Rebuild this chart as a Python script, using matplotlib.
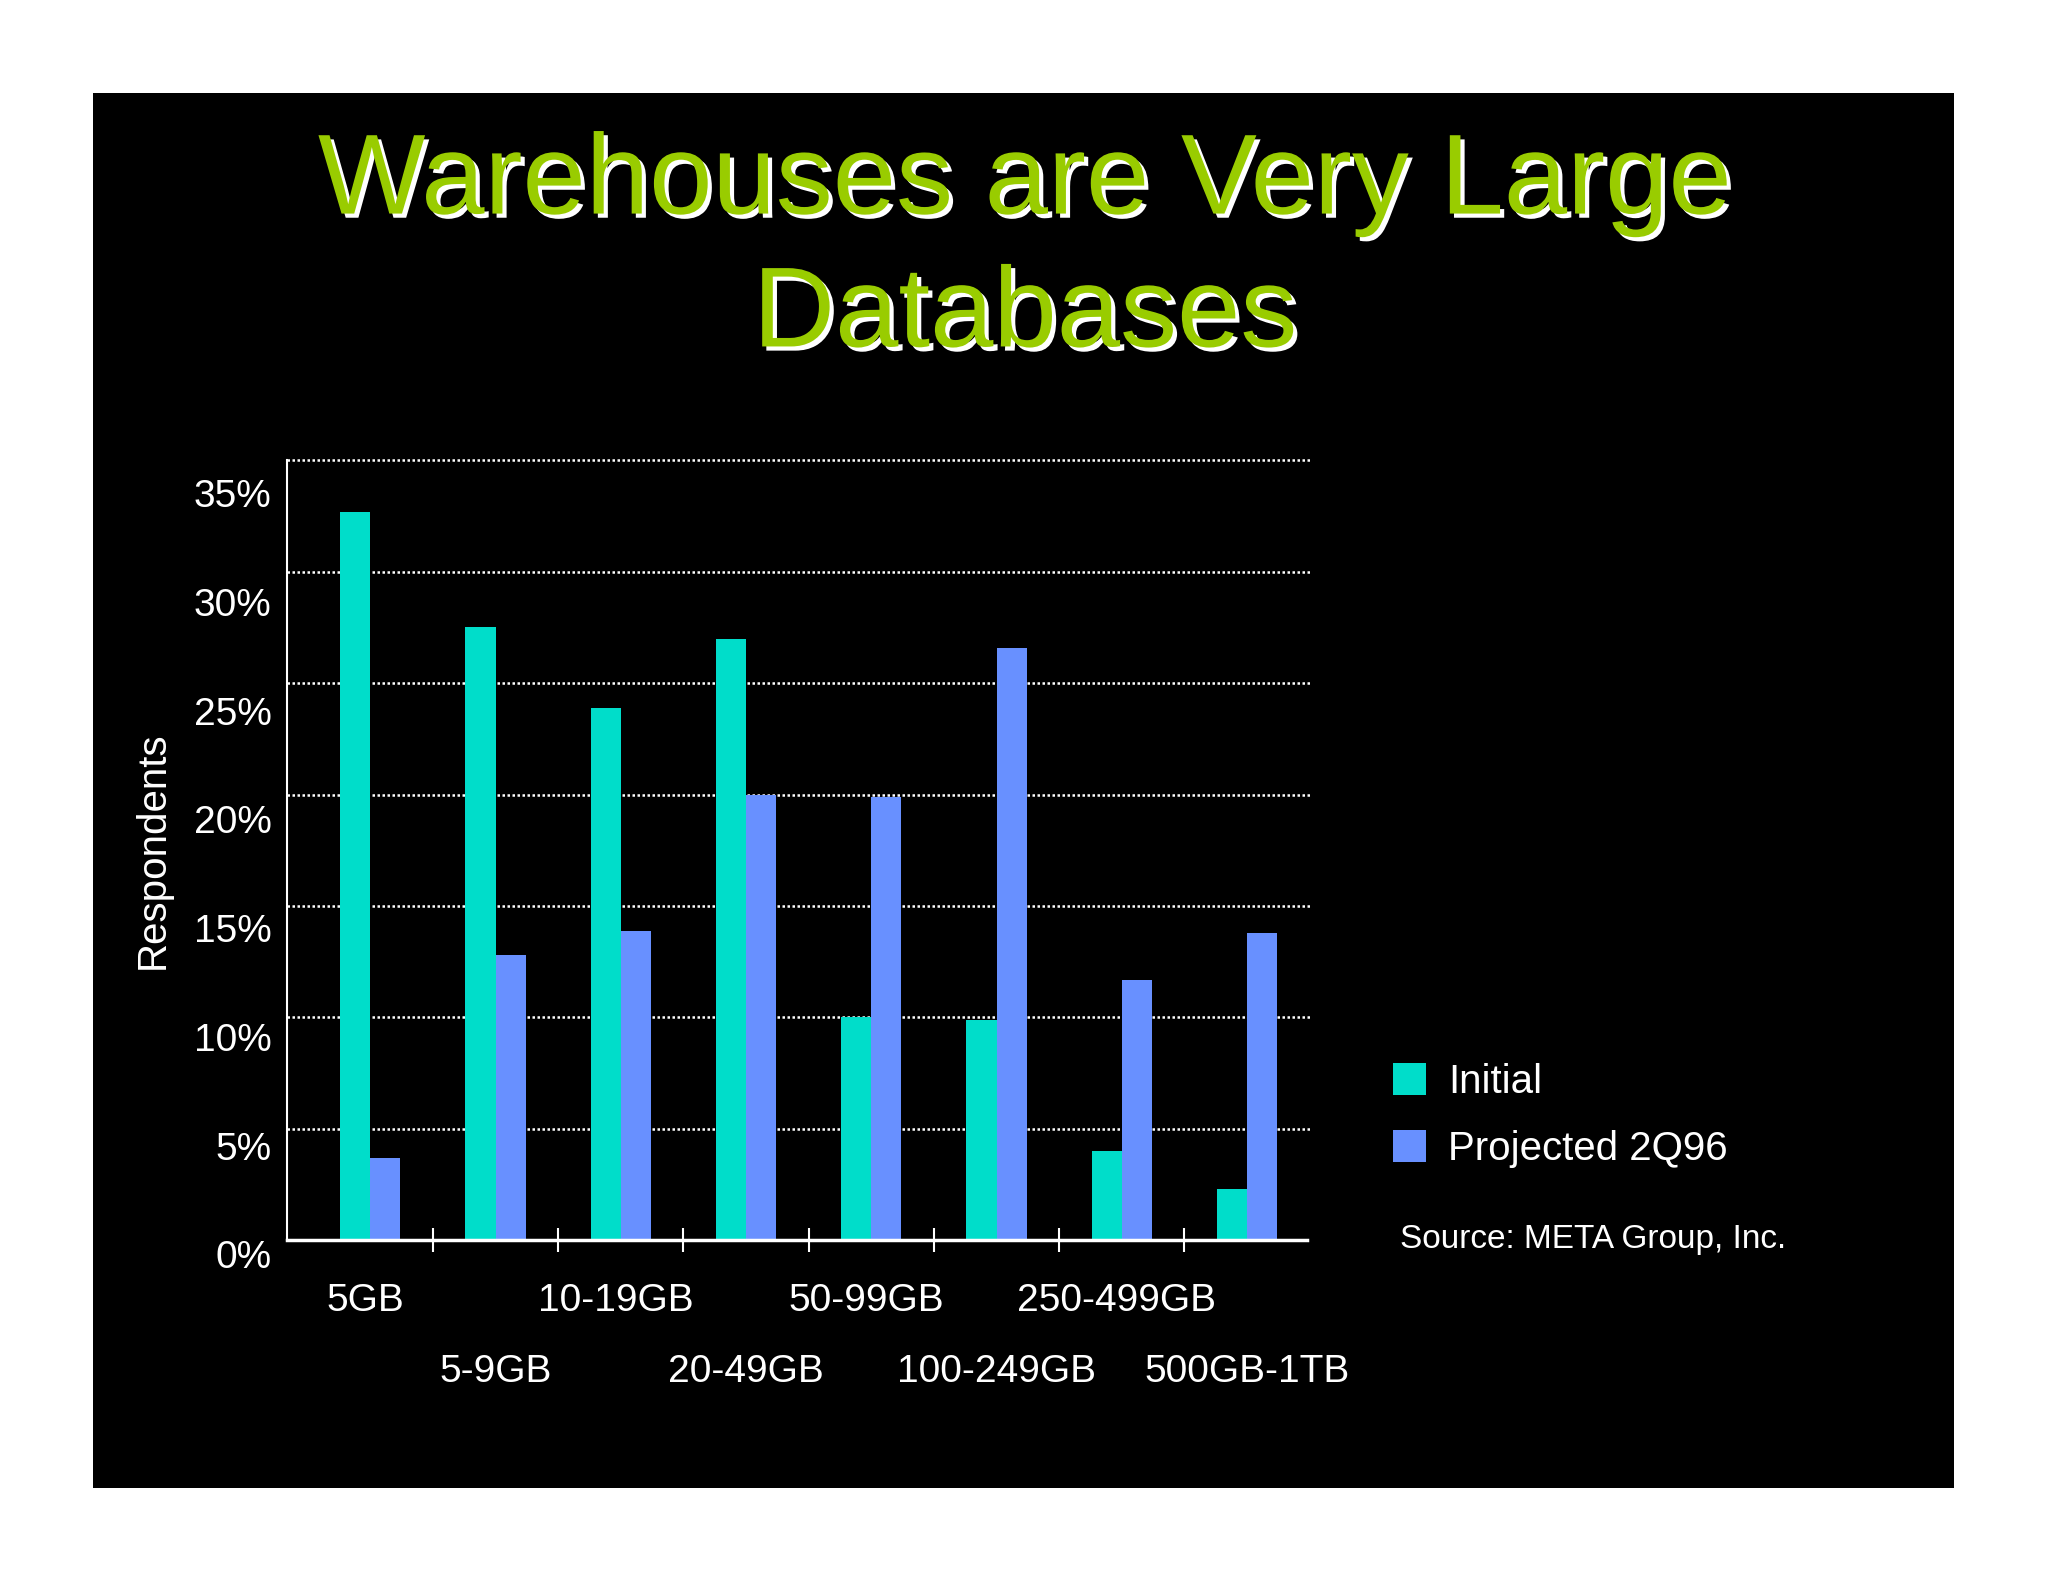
import numpy as np
import matplotlib
matplotlib.use("Agg")
import matplotlib.pyplot as plt
import matplotlib.transforms as mtransforms
import matplotlib.patheffects as pe
from matplotlib.patches import Rectangle

plt.rcParams['font.family'] = ['Liberation Sans', 'DejaVu Sans']

# Data
categories = ["5GB", "5-9GB", "10-19GB", "20-49GB",
              "50-99GB", "100-249GB", "250-499GB", "500GB-1TB"]
initial = [32.7, 27.5, 23.9, 27.0, 10.0, 9.9, 4.0, 2.3]
projected = [3.7, 12.8, 13.9, 20.0, 19.9, 26.6, 11.7, 13.8]
y_ticks = [0, 5, 10, 15, 20, 25, 30, 35]
series_names = ["Initial", "Projected 2Q96"]

teal = "#00DDCA"
blue = "#6890FF"
green = "#99CC00"

fig = plt.figure(figsize=(20.48, 15.82), dpi=100, facecolor="white")

# black slide panel
fig.patches.append(Rectangle((0.0454, 0.0594), 0.9087, 0.8818,
                             transform=fig.transFigure, facecolor="black",
                             edgecolor="none", zorder=-1))

# title with white drop shadow
title_lines = ["Warehouses are Very Large", "Databases"]
title_y = [0.865, 0.781]
shadow = [pe.SimplePatchShadow(offset=(3, -3), shadow_rgbFace="white", alpha=1.0),
          pe.Normal()]
for line, ty in zip(title_lines, title_y):
    fig.text(0.5005, ty, line, ha="center", va="baseline",
             fontsize=82, color=green, path_effects=shadow)

ax = fig.add_axes([0.140, 0.216, 0.498, 0.493])
ax.set_facecolor("none")

x = np.arange(len(categories))
w = 0.24
ax.bar(x - w / 2, initial, w, color=teal, label=series_names[0], zorder=3)
ax.bar(x + w / 2, projected, w, color=blue, label=series_names[1], zorder=3)

ax.set_xlim(-0.667, 7.476)
ax.set_ylim(0, 35)

# dotted gridlines
for v in y_ticks[1:]:
    ax.axhline(v, color="white", linestyle=(0, (1, 1)), linewidth=1.8, zorder=1,
               xmax=1.003, clip_on=False)

for s in ["top", "right"]:
    ax.spines[s].set_visible(False)
ax.spines["left"].set_color("white")
ax.spines["left"].set_linewidth(1.5)
ax.spines["bottom"].set_color("white")
ax.spines["bottom"].set_linewidth(2.5)
ax.spines["bottom"].set_zorder(4)

# y axis
ax.set_yticks(y_ticks)
ax.set_yticklabels([f"{v}%" for v in y_ticks])
ax.tick_params(axis="y", length=0, pad=11, labelsize=28, labelcolor="white")
for k, lab in enumerate(ax.get_yticklabels()):
    dy = -(14 + 19 * k / 7) * 0.72
    lab.set_transform(lab.get_transform() +
                      mtransforms.ScaledTranslation(0, dy / 72, fig.dpi_scale_trans))

ax.set_ylabel("Respondents", fontsize=29, color="white", labelpad=16)

# x axis: separators between categories, labels staggered
ax.set_xticks(x[:-1] + 0.5)
ax.set_xticklabels([])
ax.tick_params(axis="x", which="major", direction="inout", length=17,
               width=1.5, color="white")
ax.set_xticks(x, minor=True)
ax.set_xticklabels(categories, minor=True)
ax.tick_params(axis="x", which="minor", length=0, pad=31, labelsize=28,
               labelcolor="white")
for k, lab in enumerate(ax.get_xticklabels(minor=True)):
    if k % 2 == 1:
        lab.set_transform(lab.get_transform() +
                          mtransforms.ScaledTranslation(0.0, -0.71, fig.dpi_scale_trans))
    else:
        lab.set_transform(lab.get_transform() +
                          mtransforms.ScaledTranslation(-0.05, 0, fig.dpi_scale_trans))

leg = ax.legend(loc="upper left", bbox_to_anchor=(0.680, 0.328),
                bbox_transform=fig.transFigure, frameon=False, fontsize=29,
                handlelength=0.82, handleheight=0.82, handletextpad=0.55,
                labelspacing=0.72, borderpad=0, borderaxespad=0)
for t in leg.get_texts():
    t.set_color("white")

fig.text(0.6836, 0.2168, "Source: META Group, Inc.", ha="left", va="center",
         fontsize=24, color="white")

fig.savefig("out.png", dpi=100, facecolor=fig.get_facecolor())
